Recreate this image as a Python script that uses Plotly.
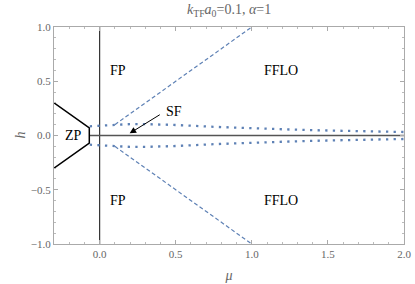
import plotly.graph_objects as go

# SF (superfluid) boundary, upper branch (lower is mirror)
mu_sf = [-0.065, 0.0, 0.1, 0.2, 0.3, 0.5, 0.75, 1.0, 1.25, 1.5, 1.75, 2.0]
h_sf = [0.085, 0.09, 0.1, 0.105, 0.105, 0.097, 0.08, 0.066, 0.055, 0.046, 0.039, 0.032]

# FP / FFLO boundary (dashed)
mu_fflo = [0.1, 1.0]
h_fflo = [0.1, 1.0]

# ZP boundary (solid black)
mu_zp = [-0.3, -0.068, -0.068, -0.3]
h_zp = [0.3, 0.07, -0.07, -0.3]

# h = 0 line and mu = 0 line
mu_h0 = [-0.068, 2.0]
h_h0 = [0.0, 0.0]
mu_v0 = [0.0, 0.0]
h_v0 = [-1.0, 1.0]

# region labels
label_text = ["FP", "FFLO", "FP", "FFLO", "ZP", "SF"]
label_mu = [0.12, 1.19, 0.12, 1.19, -0.17, 0.49]
label_h = [0.6, 0.6, -0.6, -0.6, 0.0, 0.22]

# arrow from SF label to h=0 line
arrow_tail = (0.405, 0.2)
arrow_tip = (0.197, 0.02)

xticks = [0.0, 0.5, 1.0, 1.5, 2.0]
yticks = [-1.0, -0.5, 0.0, 0.5, 1.0]

blue = "#5E81B5"
font = "Liberation Serif, Times New Roman, DejaVu Serif, serif"

fig = go.Figure()

fig.add_trace(go.Scatter(x=mu_v0, y=h_v0, mode="lines",
                         line=dict(color="#222222", width=1.1), hoverinfo="skip"))
fig.add_trace(go.Scatter(x=mu_h0, y=h_h0, mode="lines",
                         line=dict(color="#555555", width=1.6), hoverinfo="skip"))
fig.add_trace(go.Scatter(x=mu_zp, y=h_zp, mode="lines",
                         line=dict(color="black", width=1.5), hoverinfo="skip"))
for sgn in (1, -1):
    fig.add_trace(go.Scatter(x=mu_sf, y=[sgn * v for v in h_sf], mode="lines",
                             line=dict(color=blue, width=2.3, dash="2.3px,5.3px"),
                             hoverinfo="skip"))
    fig.add_trace(go.Scatter(x=mu_fflo, y=[sgn * v for v in h_fflo], mode="lines",
                             line=dict(color=blue, width=1.2, dash="4px,2.5px"),
                             hoverinfo="skip"))

for t, x, y in zip(label_text, label_mu, label_h):
    fig.add_annotation(x=x, y=y, text=t, showarrow=False,
                       font=dict(family=font, size=14, color="black"))

fig.add_annotation(x=arrow_tip[0], y=arrow_tip[1], ax=arrow_tail[0], ay=arrow_tail[1],
                   axref="x", ayref="y", xref="x", yref="y", text="",
                   showarrow=True, arrowhead=2, arrowsize=1.3, arrowwidth=1,
                   arrowcolor="black")

# y-axis title placed as rotated text
fig.add_annotation(x=-0.097, xref="paper", y=0.0, yref="y", text="<i>h</i>",
                   showarrow=False, textangle=-90, xanchor="center",
                   font=dict(family=font, size=14, color="#666666"))

axis_common = dict(
    showgrid=False, zeroline=False, showline=True, linecolor="#aaaaaa", linewidth=1,
    mirror="ticks", ticks="inside", ticklen=4, tickcolor="#aaaaaa", tickwidth=1,
    tickfont=dict(family=font, size=11, color="#666666"), automargin=False,
    minor=dict(ticks="inside", ticklen=2, tickcolor="#bbbbbb", dtick=0.1, showgrid=False),
)

fig.update_xaxes(range=[-0.3, 2.0], tickvals=xticks, ticktext=[f"{v:.1f}" for v in xticks],
                 title=dict(text="<i>μ</i>", font=dict(family=font, size=14, color="#666666"),
                            standoff=10),
                 **axis_common)
fig.update_yaxes(range=[-1.0, 1.0], tickvals=yticks,
                 ticktext=[f"{v:.1f}".replace("-", "\u2212") for v in yticks],
                 **axis_common)

fig.update_layout(
    width=415, height=284,
    margin=dict(l=54, r=11, t=27, b=40, autoexpand=False),
    plot_bgcolor="white", paper_bgcolor="white",
    showlegend=False,
    title=dict(text="<i>k</i><sub>TF</sub><i>a</i><sub>0</sub>=0.1, <i>α</i>=1",
               x=0.552, xanchor="center", y=0.985, yanchor="top",
               font=dict(family=font, size=14, color="#666666")),
)

fig.write_html("out.html", config={"displayModeBar": False},
               post_script="document.body.style.margin='0';")
